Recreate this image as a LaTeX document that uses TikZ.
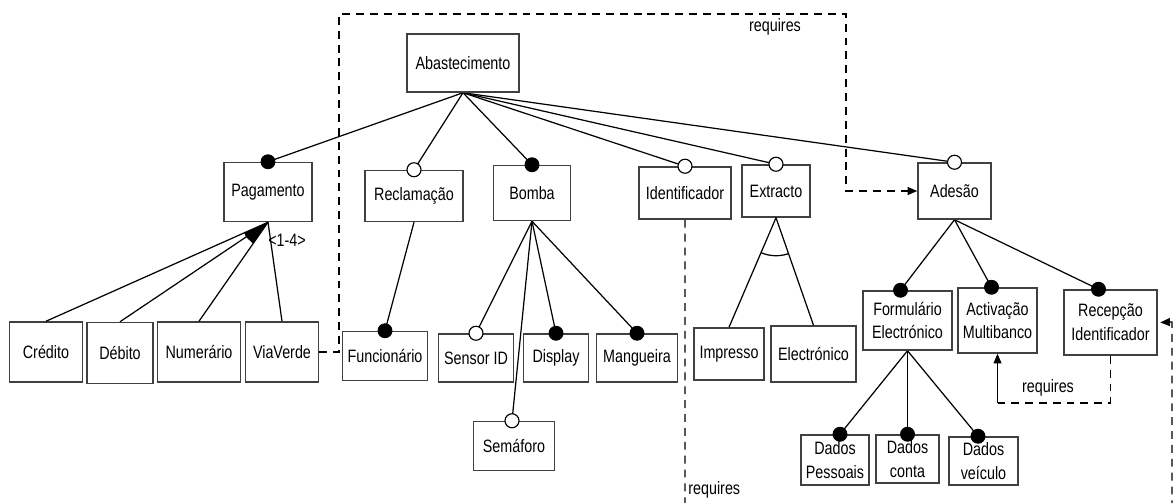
\documentclass[tikz,border=0pt]{standalone}
\usepackage{fontspec}
\setmainfont[FakeStretch=0.8]{Liberation Sans}
\usetikzlibrary{arrows.meta,backgrounds,calc}

\begin{document}
\begin{tikzpicture}[x=0.02cm, y=-0.02cm,
  feat/.style 2 args={draw=black!75, line width=0.85pt, fill=white,
    minimum width=#1*0.02cm, minimum height=#2*0.02cm, inner sep=0pt,
    align=center, font=\fontsize{10.2}{13.5}\selectfont},
  link/.style={line width=0.7pt, draw=black},
  mand/.style={circle, fill=black, draw=black, line width=0.5pt,
    minimum size=0.28cm, inner sep=0pt},
  opt/.style={circle, fill=white, draw=black, line width=0.65pt,
    minimum size=0.28cm, inner sep=0pt},
  req/.style={line width=0.75pt, dash pattern=on 4.5pt off 3.4pt},
  reqtip/.style={-{Triangle[length=5.5pt, width=4.5pt]}},
  lbl/.style={inner sep=0pt, font=\fontsize{10.2}{12}\selectfont}]

\useasboundingbox (0,0) rectangle (1173,503);
\clip (0,0) rectangle (1173,503);

% feature boxes
\node[feat={112}{58}] (abas) at (463,63) {Abastecimento};
\node[feat={88}{59}]  (pag)  at (268,192) {Pagamento};
\node[feat={98}{51}]  (recl) at (414,196) {Reclamação};
\node[feat={77}{55}]  (bomba) at (532,193) {Bomba};
\node[feat={92}{52}]  (ident) at (685,193) {Identificador};
\node[feat={68}{52}]  (extr) at (776,191) {Extracto};
\node[feat={73}{56}]  (ades) at (954.5,191) {Adesão};

\node[feat={73}{60}] (cred) at (46,352) {Crédito};
\node[feat={66}{61}] (debi) at (120,353) {Débito};
\node[feat={83}{60}] (nume) at (199,352) {Numerário};
\node[feat={73}{60}] (viav) at (282,352) {ViaVerde};

\node[feat={85}{49}] (func) at (385,356) {Funcionário};
\node[feat={75}{48}] (sens) at (476,358) {Sensor ID};
\node[feat={65}{48}] (disp) at (556,358) {Display};
\node[feat={81}{48}] (mang) at (637,358) {Mangueira};
\node[feat={81}{49}] (sema) at (514,446) {Semáforo};

\node[feat={70}{52}] (impr) at (729,354) {Impresso};
\node[feat={85}{56}] (elec) at (813.5,354) {Electrónico};

\node[feat={89}{59}] (form) at (907.5,320.5) {Formulário\\Electrónico};
\node[feat={79}{65}] (acti) at (997.5,320.5) {Activação\\Multibanco};
\node[feat={93}{65}] (rece) at (1110.5,322.5) {Recepção\\Identificador};

\node[feat={68}{50}] (dpes) at (835,460) {Dados\\Pessoais};
\node[feat={63}{48}] (dcon) at (907.5,459) {Dados\\conta};
\node[feat={69}{48}] (dvei) at (983.5,461) {Dados\\veículo};

% mandatory (filled) and optional (open) markers on the child features
\node[mand] (cpag)   at (pag.north) {};
\node[opt]  (crecl)  at (recl.north) {};
\node[mand] (cbomba) at (bomba.north) {};
\node[opt]  (cident) at (ident.north) {};
\node[opt]  (cextr)  at (extr.north) {};
\node[opt]  (cades)  at (ades.north) {};
\node[mand] (cfunc)  at (func.north) {};
\node[opt]  (csens)  at (sens.north) {};
\node[mand] (cdisp)  at (disp.north) {};
\node[mand] (cmang)  at (mang.north) {};
\node[opt]  (csema)  at ([xshift=-0.04cm]sema.north) {};
\node[mand] (cform)  at ([xshift=-0.14cm]form.north) {};
\node[mand] (cacti)  at ([xshift=-0.12cm]acti.north) {};
\node[mand] (crece)  at ([xshift=-0.24cm]rece.north) {};
\node[mand] (cdpes)  at ([xshift=0.1cm]dpes.north) {};
\node[mand] (cdcon)  at (dcon.north) {};
\node[mand] (cdvei)  at ([xshift=-0.11cm]dvei.north) {};

% tree connectors, kept behind boxes and markers
\begin{pgfonlayer}{background}
\foreach \c in {cpag,crecl,cbomba,cident,cextr,cades}
  \draw[link] (abas.south) -- (\c.center);
\draw[link] (recl.south) -- (cfunc.center);
\foreach \c in {csens,csema,cdisp,cmang}
  \draw[link] (bomba.south) -- (\c.center);
\foreach \c in {cform,cacti,crece}
  \draw[link] (ades.south) -- (\c.center);
\foreach \c in {cdpes,cdcon,cdvei}
  \draw[link] (form.south) -- (\c.center);
\end{pgfonlayer}
\foreach \c in {cred,debi,nume,viav}
  \draw[link] (pag.south) -- (\c.north);
\draw[link] (extr.south) -- (impr.north);
\draw[link] (extr.south) -- (elec.north);

% or-group sector under Pagamento
\fill (pag.south)
  -- ($(pag.south)!0.52cm!(cred.north)$)
  -- ($(pag.south)!0.53cm!(debi.north)$)
  -- ($(pag.south)!0.52cm!(nume.north)$) -- cycle;
\node[lbl] (card) at (287,240) {<1-4>};

% alternative arc under Extracto
\begin{scope}
  \clip (extr.south) -- (impr.north) -- (elec.north) -- cycle;
  \draw[link] (extr.south) circle[radius=38];
\end{scope}

% requires dependencies
\coordinate (r1a) at (339,352);
\coordinate (r1b) at (339,14);
\coordinate (r1c) at (846,14);
\coordinate (r1d) at (846,191);
\draw[req, reqtip] (viav.east) -- (r1a) -- (r1b) -- (r1c) -- (r1d) -- (ades.west);
\node[lbl] (q1) at (775,27) {requires};

\coordinate (r2a) at (1110.5,403);
\coordinate (r2b) at (997.5,403);
\draw[req] (rece.south) -- (r2a) -- (r2b);
\draw[line width=0.75pt, reqtip] (r2b) -- (acti.south);
\node[lbl] (q2) at (1048,388) {requires};

\coordinate (r3a) at (685,530);
\coordinate (r3b) at (1172,530);
\coordinate (r3c) at (1172,322);
\draw[req, reqtip, shorten >=0.05cm] (ident.south) -- (r3a) -- (r3b) -- (r3c) -- (rece.east);
\node[lbl, anchor=west] (q3) at (688,490) {requires};

\end{tikzpicture}
\end{document}
